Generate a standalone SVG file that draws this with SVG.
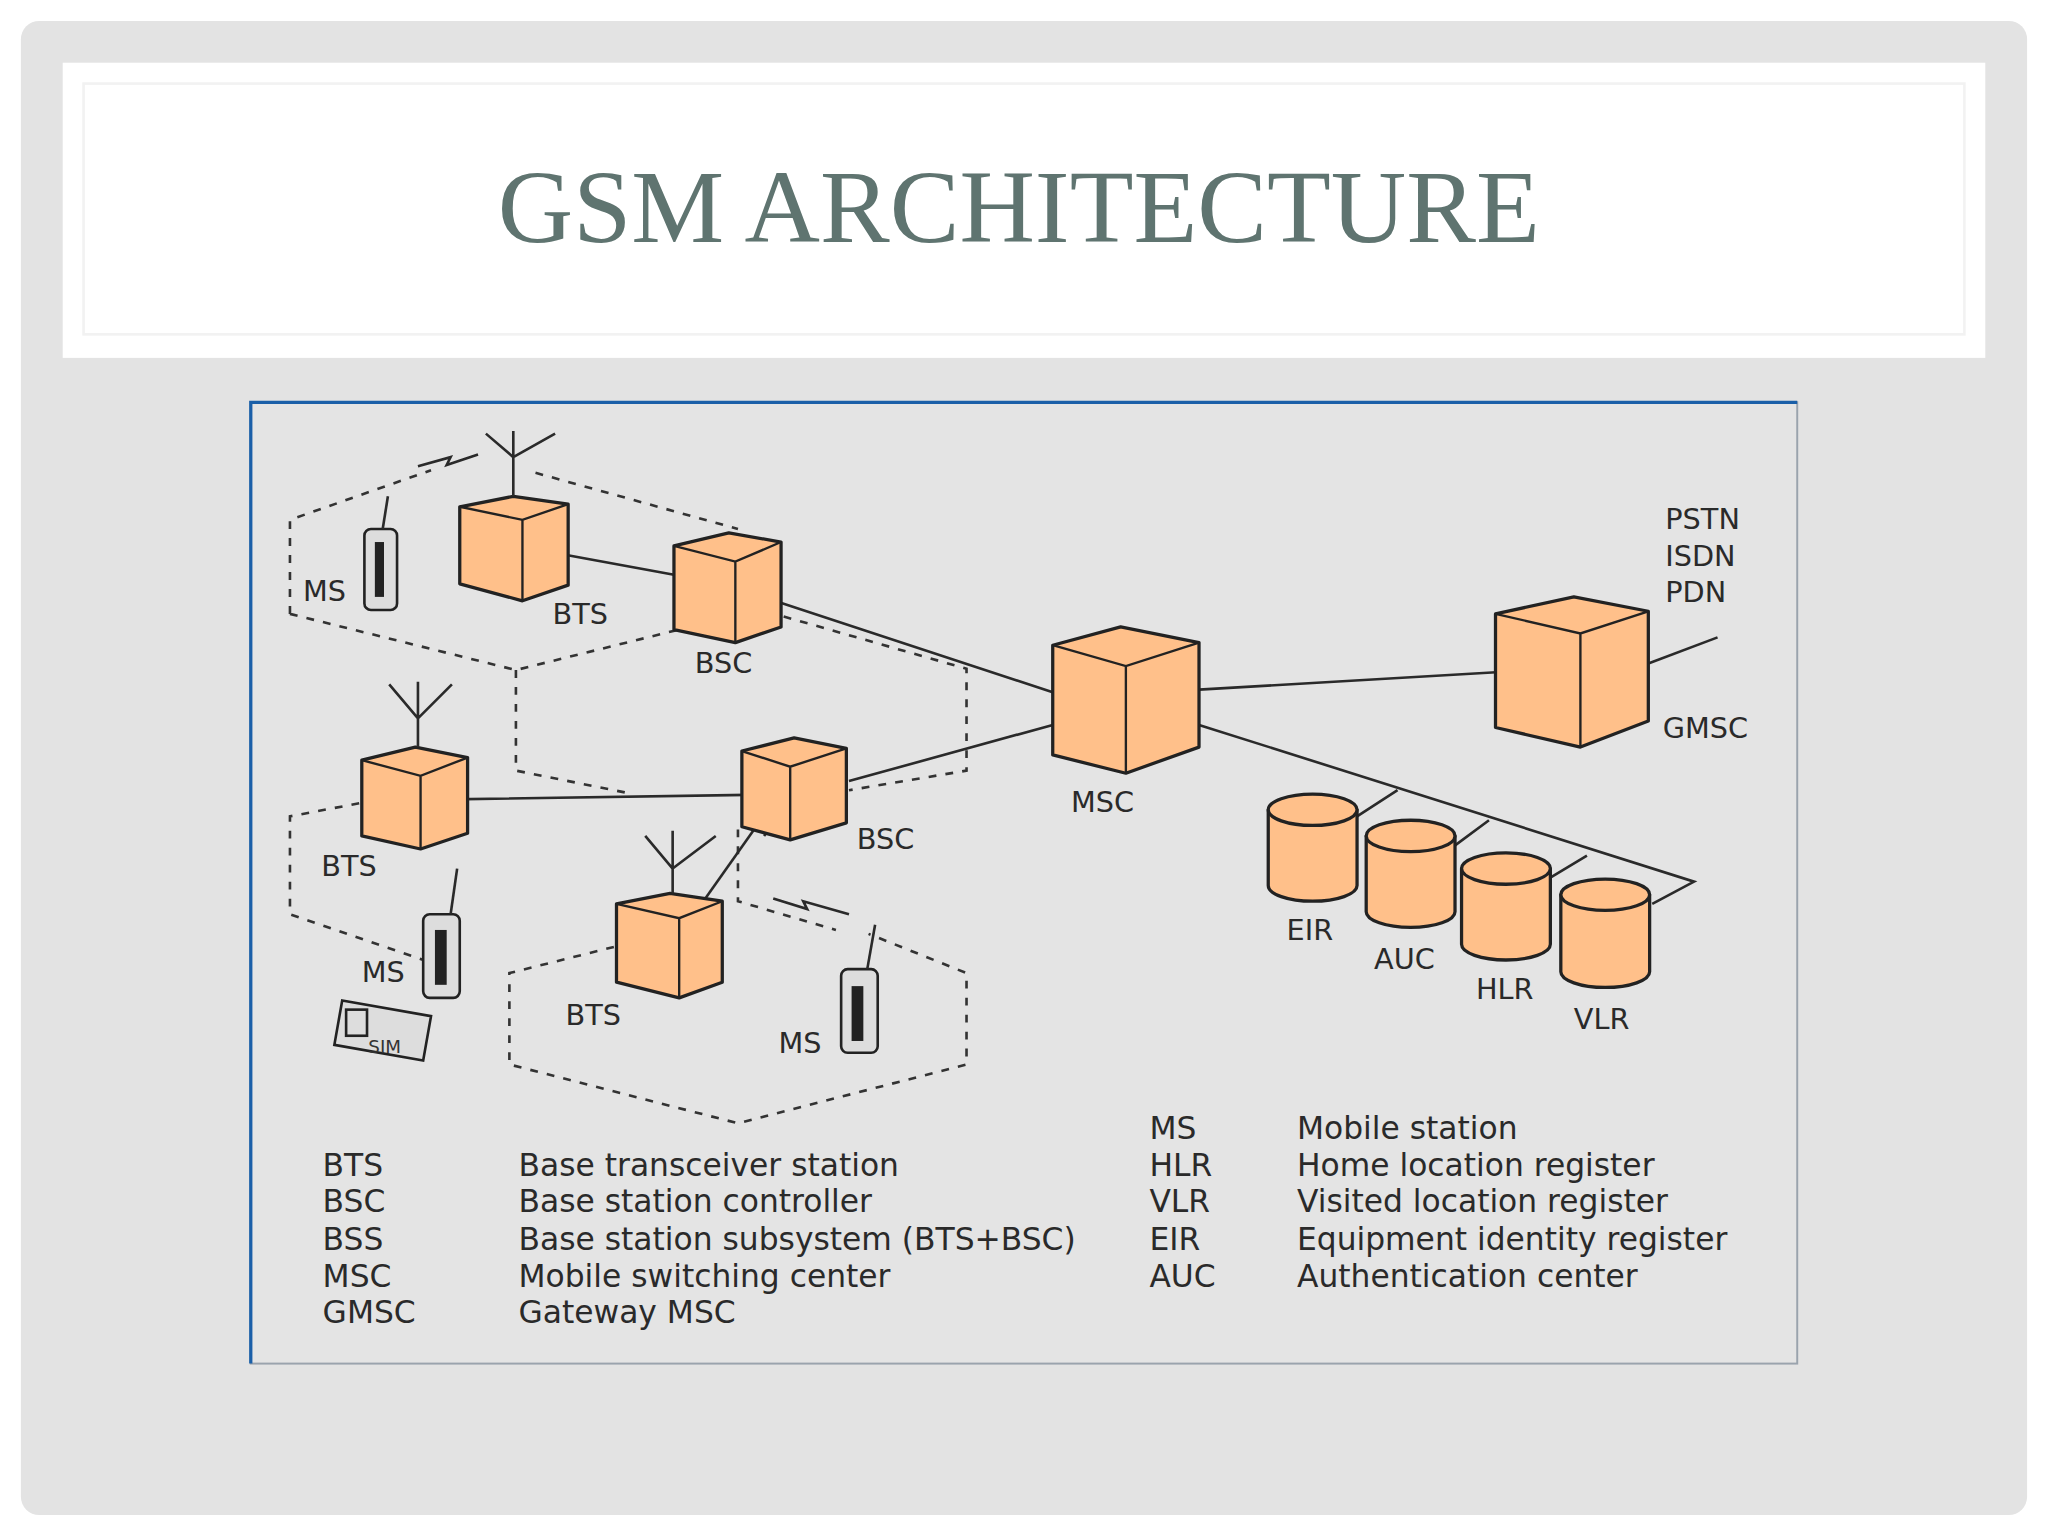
<svg xmlns="http://www.w3.org/2000/svg" width="2048" height="1536" viewBox="0 0 2048 1536">
<style>
.cube{fill:#ffc08a;stroke:#222;stroke-width:2.5;stroke-linejoin:round}
.edge{fill:none;stroke:#222;stroke-width:1.8}
.ln{fill:none;stroke:#2a2a2a;stroke-width:2}
.dash{fill:none;stroke:#333;stroke-width:2;stroke-dasharray:6 7}
.lbl{font-family:"DejaVu Sans",sans-serif;font-size:22px;fill:#2a2a2a}
.leg{font-family:"DejaVu Sans",sans-serif;font-size:24px;fill:#2a2a2a}
.phone{fill:#ddd;stroke:#222;stroke-width:2}
</style>
<rect width="2048" height="1536" fill="#ffffff"/>
<g transform="scale(1.30612)">
<rect x="16" y="16" width="1536" height="1144" rx="14" fill="#e3e3e3"/>
<rect x="48" y="48" width="1472" height="226" fill="#ffffff"/>
<rect x="64" y="64" width="1440" height="192" fill="#ffffff" stroke="#f2f2f2" stroke-width="2"/>
<text x="780" y="185" text-anchor="middle" font-family="'Liberation Serif',serif" font-size="80" fill="#5f7470">GSM ARCHITECTURE</text>
<rect x="192" y="308" width="1184" height="736" fill="#e4e4e4" stroke="#9aa3ad" stroke-width="1.5"/>
<path d="M192 1044V308H1376" fill="none" stroke="#1a5fa8" stroke-width="2.5"/>

<g id="cells">
<path class="dash" d="M222 470V398L330 360M410 362L565 405M222 470L395 513L520 482"/>
<path class="dash" d="M395 513V590L480 607M600 472L740 512V590L650 605"/>
<path class="dash" d="M275 615L222 625V700L330 737"/>
<path class="dash" d="M470 725L390 745V815L565 860L740 815V745L665 715M565 635V690L640 712"/>
</g>

<g id="connectors">
<path class="ln" d="M418 422L516 440"/>
<path class="ln" d="M578 455L806 530L845 545"/>
<path class="ln" d="M650 598L806 555L845 545"/>
<path class="ln" d="M918 528L1175 513"/>
<path class="ln" d="M1262 508L1315 488"/>
<path class="ln" d="M918 555L1297 675L1265 692M1070 605L1039 625M1140 628L1113 648M1215 655L1187 672"/>
<path class="ln" d="M345 612L608 608L585 640"/>
<path class="ln" d="M540 688L588 620"/>
<path class="ln" d="M320 357L345 350L342 356L366 348"/>
<path class="ln" d="M592 688L618 696L615 690L650 700"/>
</g>

<g id="bts1"><path class="cube" d="M352 388L393 380L435 386V448L400 460L352 447Z"/><path class="edge" d="M352 388L400 398L435 386M400 398V460"/><path class="ln" d="M393 380V330M393 350L372 332M393 350L425 332"/><text class="lbl" x="423" y="478">BTS</text></g>
<g id="bsc1"><path class="cube" d="M516 418L558 408L598 415V480L563 492L516 482Z"/><path class="edge" d="M516 418L563 430L598 415M563 430V492"/><text class="lbl" x="532" y="515">BSC</text></g>
<g id="bts2"><path class="cube" d="M277 582L318 572L358 580V638L322 650L277 640Z"/><path class="edge" d="M277 582L322 594L358 580M322 594V650"/><path class="ln" d="M320 572V522M320 550L298 524M320 550L346 524"/><text class="lbl" x="246" y="671">BTS</text></g>
<g id="bsc2"><path class="cube" d="M568 575L608 565L648 573V630L605 643L568 633Z"/><path class="edge" d="M568 575L605 587L648 573M605 587V643"/><text class="lbl" x="656" y="650">BSC</text></g>
<g id="bts3"><path class="cube" d="M472 692L513 684L553 690V752L520 764L472 752Z"/><path class="edge" d="M472 692L520 703L553 690M520 703V764"/><path class="ln" d="M515 684V636M515 665L494 640M515 665L548 640"/><text class="lbl" x="433" y="785">BTS</text></g>
<g id="msc"><path class="cube" d="M806 494L858 480L918 492V572L862 592L806 578Z"/><path class="edge" d="M806 494L862 510L918 492M862 510V592"/><text class="lbl" x="820" y="622">MSC</text></g>
<g id="gmsc"><path class="cube" d="M1145 470L1205 457L1262 468V552L1210 572L1145 557Z"/><path class="edge" d="M1145 470L1210 485L1262 468M1210 485V572"/><text class="lbl" x="1273" y="565">GMSC</text><text class="lbl" x="1275" y="405">PSTN</text><text class="lbl" x="1275" y="433">ISDN</text><text class="lbl" x="1275" y="461">PDN</text></g>

<g id="eir"><path class="cube" d="M971 620V678A34 12 0 0 0 1039 678V620Z"/><ellipse class="cube" cx="1005" cy="620" rx="34" ry="12"/><text class="lbl" x="985" y="720">EIR</text></g>
<g id="auc"><path class="cube" d="M1046 640V698A34 12 0 0 0 1114 698V640Z"/><ellipse class="cube" cx="1080" cy="640" rx="34" ry="12"/><text class="lbl" x="1052" y="742">AUC</text></g>
<g id="hlr"><path class="cube" d="M1119 665V723A34 12 0 0 0 1187 723V665Z"/><ellipse class="cube" cx="1153" cy="665" rx="34" ry="12"/><text class="lbl" x="1130" y="765">HLR</text></g>
<g id="vlr"><path class="cube" d="M1195 685V744A34 12 0 0 0 1263 744V685Z"/><ellipse class="cube" cx="1229" cy="685" rx="34" ry="12"/><text class="lbl" x="1205" y="788">VLR</text></g>

<g id="ms1"><rect class="phone" x="279" y="405" width="25" height="62" rx="5"/><rect x="287" y="415" width="7" height="42" fill="#222"/><path class="ln" d="M293 405L297 380"/><text class="lbl" x="232" y="460">MS</text></g>
<g id="ms2"><rect class="phone" x="324" y="700" width="28" height="64" rx="5"/><rect x="333" y="712" width="9" height="42" fill="#222"/><path class="ln" d="M345 700L350 665"/><text class="lbl" x="277" y="752">MS</text></g>
<g id="ms3"><rect class="phone" x="644" y="742" width="28" height="64" rx="5"/><rect x="652" y="755" width="9" height="42" fill="#222"/><path class="ln" d="M664 742L670 708"/><text class="lbl" x="596" y="806">MS</text></g>
<g id="sim"><path class="phone" d="M262 766L330 778L324 812L256 800Z" fill="#e8e8e8"/><rect x="265" y="773" width="16" height="20" fill="none" stroke="#222" stroke-width="2"/><text x="282" y="806" font-family="'DejaVu Sans',sans-serif" font-size="14" fill="#333">SIM</text></g>

<g id="legend">
<text class="leg" x="247" y="900">BTS</text><text class="leg" x="397" y="900">Base transceiver station</text>
<text class="leg" x="247" y="928">BSC</text><text class="leg" x="397" y="928">Base station controller</text>
<text class="leg" x="247" y="957">BSS</text><text class="leg" x="397" y="957">Base station subsystem (BTS+BSC)</text>
<text class="leg" x="247" y="985">MSC</text><text class="leg" x="397" y="985">Mobile switching center</text>
<text class="leg" x="247" y="1013">GMSC</text><text class="leg" x="397" y="1013">Gateway MSC</text>
<text class="leg" x="880" y="872">MS</text><text class="leg" x="993" y="872">Mobile station</text>
<text class="leg" x="880" y="900">HLR</text><text class="leg" x="993" y="900">Home location register</text>
<text class="leg" x="880" y="928">VLR</text><text class="leg" x="993" y="928">Visited location register</text>
<text class="leg" x="880" y="957">EIR</text><text class="leg" x="993" y="957">Equipment identity register</text>
<text class="leg" x="880" y="985">AUC</text><text class="leg" x="993" y="985">Authentication center</text>
</g>
</g>
</svg>
